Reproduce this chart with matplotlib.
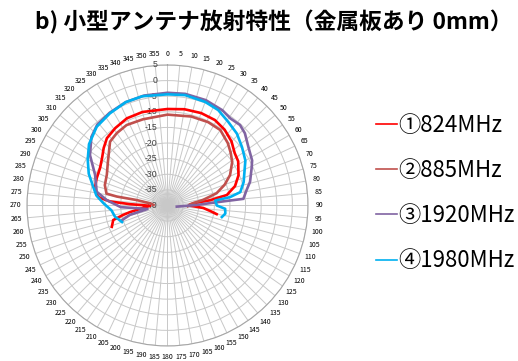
import numpy as np
import matplotlib
matplotlib.use("Agg")
import matplotlib.pyplot as plt
from matplotlib.lines import Line2D

plt.rcParams["font.family"] = ["Noto Sans CJK JP", "DejaVu Sans"]

TITLE = "b) 小型アンテナ放射特性（金属板あり 0mm）"

# gain in dB at each measured angle (deg, clockwise from top), in drawing order
ANG_824 = [249, 255, 258, 260, 264, 269, 272, 274, 277, 283, 291, 299, 306, 312, 318,
           326, 335, 345, 0, 10, 20, 29, 37, 45, 52, 58, 67, 74, 80, 83, 85, 90, 94, 98, 100]
DB_824 = [-20.9, -22.0, -25.5, -27.8, -32.0, -34.4, -28.0, -21.5, -17.6, -16.1, -15.7,
          -15.3, -14.1, -12.5, -11.0, -10.1, -9.2, -9.0, -9.1, -8.7, -8.5, -8.7, -9.6,
          -11.0, -12.7, -13.3, -15.3, -17.5, -20.7, -26.3, -31.7, -33.0, -28.5, -25.7, -24.0]

ANG_885 = [272, 277, 280, 280, 281, 288, 297, 306, 318, 325, 333, 344, 0, 15, 26, 35,
           44, 50, 56, 64, 70, 76, 81, 87, 92]
DB_885 = [-35.5, -34.4, -30.0, -23.5, -20.1, -18.9, -18.2, -16.4, -12.5, -11.7, -11.1,
          -11.3, -10.9, -10.5, -10.3, -10.5, -12.2, -13.6, -15.0, -17.7, -20.5, -23.8,
          -28.4, -32.8, -33.5]

ANG_1920 = [252, 256, 260, 264, 268, 275, 281, 293, 303, 312, 319, 328, 338, 348, 0, 9,
            20, 30, 36, 42, 47, 54, 62, 66, 74, 79, 85, 86, 89, 97]
DB_1920 = [-24.6, -27.6, -33.5, -31.0, -25.0, -20.5, -16.9, -14.8, -10.4, -7.2, -5.7,
           -5.0, -4.3, -4.0, -3.9, -3.8, -4.1, -4.8, -5.6, -5.3, -6.1, -8.0, -9.3, -10.5,
           -12.5, -14.2, -15.6, -23.1, -30.6, -37.0]

ANG_1980 = [250, 258, 265, 272, 278, 284, 292, 300, 308, 318, 328, 338, 347, 0, 9, 20,
            28, 36, 44, 52, 60, 64.5, 73, 79.6, 82.4, 84, 90, 93.3, 98, 102]
DB_1980 = [-24.5, -22.8, -22.0, -19.5, -17.0, -15.5, -12.8, -10.5, -8.1, -6.1, -5.2,
           -4.3, -4.1, -4.4, -4.2, -4.7, -5.4, -6.9, -8.0, -9.7, -11.2, -12.6, -14.5,
           -16.3, -19.8, -24.6, -24.2, -21.5, -21.3, -22.2]

SERIES = [
    ("①824MHz", ANG_824, DB_824, "#FF0000"),
    ("②885MHz", ANG_885, DB_885, "#C0504D"),
    ("③1920MHz", ANG_1920, DB_1920, "#8064A2"),
    ("④1980MHz", ANG_1980, DB_1980, "#00B0F0"),
]

R_TICKS = list(range(-40, 10, 5))
THETA_TICKS = list(range(0, 360, 5))
R_MIN, R_MAX = -40, 5

fig = plt.figure(figsize=(5.18, 3.61), dpi=100)
ax = fig.add_axes([0.0521, 0.0416, 0.5425, 0.7784], projection="polar")
ax.set_theta_zero_location("N")
ax.set_theta_direction(-1)
ax.set_ylim(R_MIN, R_MAX)

ax.set_thetagrids(THETA_TICKS, labels=[str(t) for t in THETA_TICKS])
ax.set_rgrids(R_TICKS, labels=[""] * len(R_TICKS))
ax.tick_params(axis="x", labelsize=5, pad=-2.5, colors="#000000")
ax.grid(True, color="#C8C8C8", linewidth=0.7)
ax.spines["polar"].set_color("#A6A6A6")
ax.spines["polar"].set_linewidth(0.8)

for r in R_TICKS:
    ax.annotate(str(r), xy=(0, r), xytext=(-7.5, 0), textcoords="offset points",
                ha="right", va="center", fontsize=6.3, color="#404040",
                family=["Liberation Sans", "DejaVu Sans"])

handles = []
for label, ang, db, color in SERIES:
    th = np.deg2rad(ang)
    r = np.clip(db, R_MIN, None)
    ax.plot(th, r, color=color, lw=1.9, solid_joinstyle="round", zorder=5)
    handles.append(Line2D([0], [0], color=color, lw=1.2, label=label))

fig.legend(handles=handles, loc="center left", bbox_to_anchor=(0.705, 0.465),
           frameon=False, fontsize=16, handlelength=0.95, handletextpad=0.05,
           labelspacing=1.0, borderpad=0)

fig.text(0.529, 0.939, TITLE, ha="center", va="center", fontsize=16.4, fontweight="bold")

fig.savefig("out.png", dpi=100)
